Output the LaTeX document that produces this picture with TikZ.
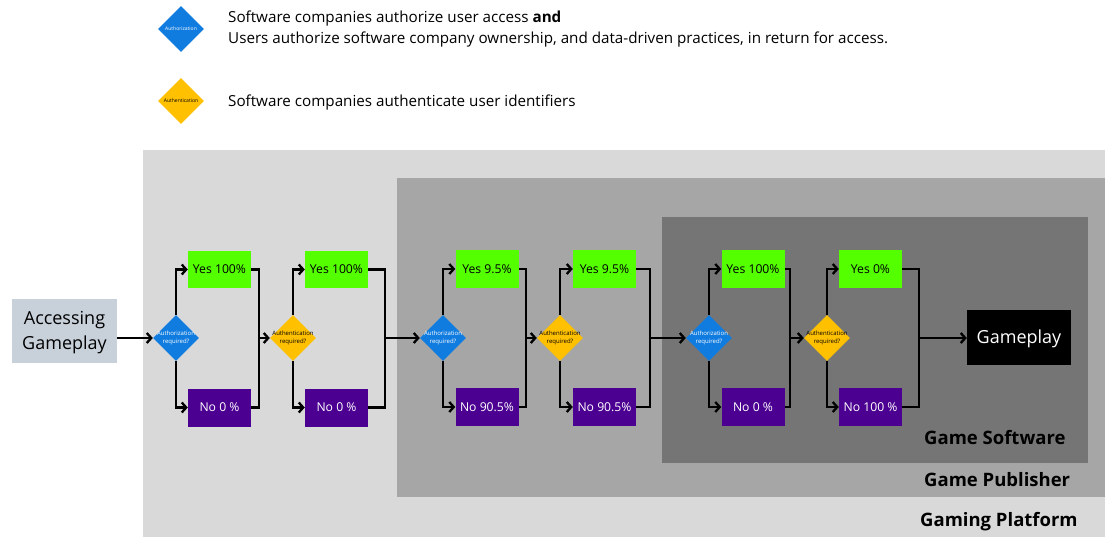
\documentclass[tikz,border=0pt]{standalone}
\usepackage{fontspec}
\setmainfont{Open Sans}
\usetikzlibrary{shapes.geometric,arrows.meta}

\definecolor{platformgray}{RGB}{217,217,217}
\definecolor{publishergray}{RGB}{166,166,166}
\definecolor{softwaregray}{RGB}{117,117,117}
\definecolor{accessbox}{RGB}{200,208,218}
\definecolor{yesgreen}{RGB}{84,255,0}
\definecolor{nopurple}{RGB}{75,0,145}
\definecolor{authzblue}{RGB}{16,124,224}
\definecolor{authnyellow}{RGB}{255,192,0}

\tikzset{
  yesbox/.style={rectangle, fill=yesgreen, minimum width=63pt, minimum height=37pt,
    inner sep=0pt, font=\fontsize{12.2}{14}\selectfont, text=black},
  nobox/.style={rectangle, fill=nopurple, minimum width=63pt, minimum height=38pt,
    inner sep=0pt, font=\fontsize{12.2}{14}\selectfont, text=white},
  authz/.style={diamond, aspect=1, fill=authzblue, minimum width=46pt, minimum height=46pt, inner sep=0pt},
  authn/.style={diamond, aspect=1, fill=authnyellow, minimum width=46pt, minimum height=46pt, inner sep=0pt},
  qtext/.style={align=center, inner sep=0pt, font=\fontsize{6}{8.5}\selectfont},
  flow/.style={line width=2.3pt, black},
  arr/.style={flow, -{Straight Barb[length=4.5pt,width=10pt,line width=2.3pt]}},
  layerlabel/.style={anchor=west, inner sep=0pt, font=\fontsize{18.5}{20}\selectfont\bfseries, text=black},
  legendtext/.style={anchor=west, align=left, inner sep=0pt, font=\fontsize{15.2}{21}\selectfont, text=black}
}

\begin{document}
\begin{tikzpicture}[x=1pt,y=-1pt]
\useasboundingbox (0,0) rectangle (1105,537);

% nested ownership layers
\fill[platformgray] (143,150) rectangle (1105,537);
\fill[publishergray] (397,178) rectangle (1105,497);
\fill[softwaregray] (662,217) rectangle (1088,463);

\node[layerlabel] (lblsoft) at (924,438) {Game Software};
\node[layerlabel] (lblpub) at (924,480) {Game Publisher};
\node[layerlabel] (lblplat) at (920,522) {Gaming Platform};

% legend
\node[authz] (legA) at (181,29) {};
\node[qtext, font=\fontsize{5}{6}\selectfont, text=white] (legAt) at (legA.center) {Authorization};
\node[legendtext] (legAtext) at (228,29) {Software companies authorize user access \textbf{and}\\Users authorize software company ownership, and data-driven practices, in return for access.};
\node[authn] (legB) at (181,101) {};
\node[qtext, font=\fontsize{5}{6}\selectfont, text=black] (legBt) at (legB.center) {Authentication};
\node[legendtext] (legBtext) at (228,103) {Software companies authenticate user identifiers};

% start and end
\node[rectangle, fill=accessbox, minimum width=105pt, minimum height=64pt] (start) at (64.5,331) {};
\node[align=center, inner sep=0pt, font=\fontsize{18}{25}\selectfont] (starttext) at (64.5,333) {Accessing\\Gameplay};
\node[rectangle, fill=black, minimum width=104pt, minimum height=55pt] (game) at (1019,337.5) {};
\node[inner sep=0pt, text=white, font=\fontsize{18}{22}\selectfont] (gametext) at (1019,339) {Gameplay};

% decision diamonds
\node[authz] (d1) at (176,338) {};
\node[qtext, text=white] (d1t) at (d1.center) {Authorization\\required?};
\node[authn] (d2) at (293,338) {};
\node[qtext, text=black] (d2t) at (d2.center) {Authentication\\required?};
\node[authz] (d3) at (443,338) {};
\node[qtext, text=white] (d3t) at (d3.center) {Authorization\\required?};
\node[authn] (d4) at (560,338) {};
\node[qtext, text=black] (d4t) at (d4.center) {Authentication\\required?};
\node[authz] (d5) at (709,338) {};
\node[qtext, text=white] (d5t) at (d5.center) {Authorization\\required?};
\node[authn] (d6) at (827,338) {};
\node[qtext, text=black] (d6t) at (d6.center) {Authentication\\required?};

% outcomes
\node[yesbox] (y1) at (219.5,269.5) {Yes 100\%};
\node[nobox]  (n1) at (219.5,407.5) {No 0 \%};
\node[yesbox] (y2) at (336.5,269.5) {Yes 100\%};
\node[nobox]  (n2) at (336.5,407.5) {No 0 \%};
\node[yesbox] (y3) at (487,269) {Yes 9.5\%};
\node[nobox]  (n3) at (487,407) {No 90.5\%};
\node[yesbox] (y4) at (604.5,269) {Yes 9.5\%};
\node[nobox]  (n4) at (604.5,407) {No 90.5\%};
\node[yesbox] (y5) at (753,269) {Yes 100\%};
\node[nobox]  (n5) at (753,407) {No 0 \%};
\node[yesbox] (y6) at (870.5,269) {Yes 0\%};
\node[nobox]  (n6) at (870.5,407) {No 100 \%};

% merge points
\coordinate (m1) at (259,338);
\coordinate (m2) at (385,338);
\coordinate (m3) at (526,338);
\coordinate (m4) at (650,338);
\coordinate (m5) at (790,338);
\coordinate (m6) at (919,338);

% connectors
\draw[arr] (start.east |- d1) -- (d1.west);
\foreach \i in {1,...,6} {
  \draw[arr] (d\i.north) |- (y\i.west);
  \draw[arr] (d\i.south) |- (n\i.west);
  \draw[flow] (y\i.east) -| (m\i) |- (n\i.east);
}
\draw[arr] (m1) -- (d2.west);
\draw[arr] (m2) -- (d3.west);
\draw[arr] (m3) -- (d4.west);
\draw[arr] (m4) -- (d5.west);
\draw[arr] (m5) -- (d6.west);
\draw[arr] (m6) -- (game.west |- m6);
\end{tikzpicture}
\end{document}
